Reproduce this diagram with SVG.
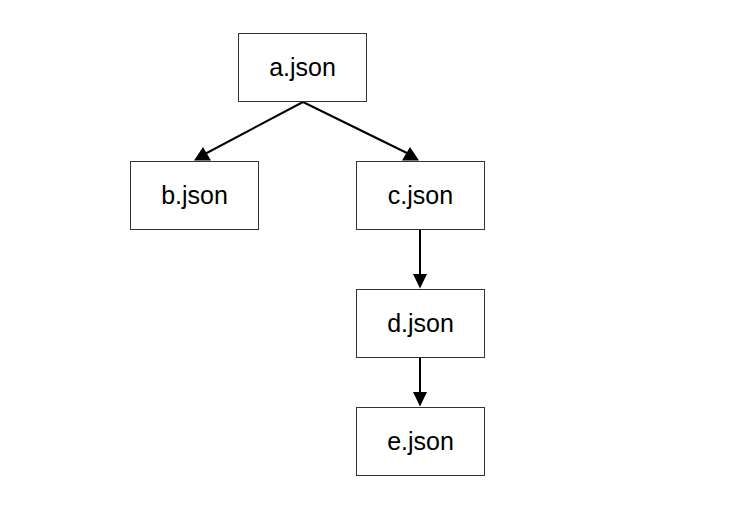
<svg xmlns="http://www.w3.org/2000/svg" width="736" height="523" viewBox="0 0 736 523">
<style>
.box{fill:#fff;stroke:#333;stroke-width:1}
.lbl{font-family:"Liberation Sans",Arial,sans-serif;font-size:25px;fill:#000;text-anchor:middle}
.edge{stroke:#000;stroke-width:2;fill:none}
.head{fill:#000}
</style>
<rect width="736" height="523" fill="#fff"/>
<g id="connectors">
<line class="edge" x1="303" y1="102" x2="203" y2="155"/>
<polygon class="head" points="194,160.5 211,160.5 203,147"/>
<line class="edge" x1="303" y1="102" x2="411" y2="155"/>
<polygon class="head" points="402,160.5 419,160.5 410,147"/>
<line class="edge" x1="420" y1="230" x2="420" y2="276"/>
<polygon class="head" points="413,274 427,274 420,288.5"/>
<line class="edge" x1="420" y1="357" x2="420" y2="394"/>
<polygon class="head" points="413,392 427,392 420,406.5"/>
</g>
<g id="a"><rect class="box" x="238.5" y="33.5" width="128" height="68"/><text class="lbl" x="302.5" y="76">a.json</text></g>
<g id="b"><rect class="box" x="130.5" y="161.5" width="128" height="68"/><text class="lbl" x="194.5" y="204">b.json</text></g>
<g id="c"><rect class="box" x="356.5" y="161.5" width="128" height="68"/><text class="lbl" x="420.5" y="204">c.json</text></g>
<g id="d"><rect class="box" x="356.5" y="289.5" width="128" height="68"/><text class="lbl" x="420.5" y="332">d.json</text></g>
<g id="e"><rect class="box" x="356.5" y="407.5" width="128" height="68"/><text class="lbl" x="420.5" y="450">e.json</text></g>
</svg>
